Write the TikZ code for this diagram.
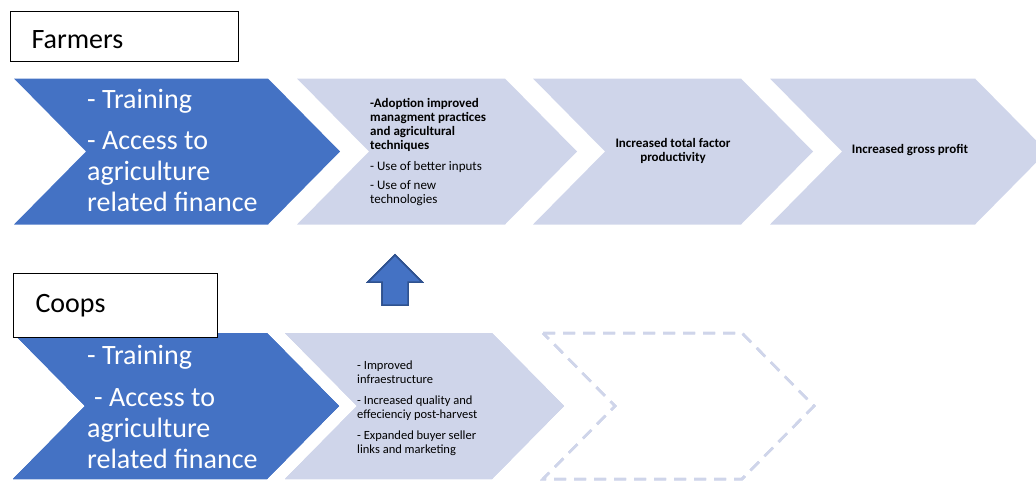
\documentclass[tikz,border=0pt]{standalone}
\usepackage{fontspec}
\setmainfont{Carlito}
\usepackage{tikz}
\definecolor{chevdark}{HTML}{4472C4}
\definecolor{chevlight}{HTML}{CFD5EA}
\definecolor{arrowline}{HTML}{2F528F}
% notched chevron: [style]{x}{y}{top width}
\newcommand{\chevpath}[4][]{%
\path[#1] (#2,#3) -- ++(#4,0) -- ++(72,73) -- ++(-72,73) -- ++(-#4,0) -- ++(72,-73) -- cycle;}

\begin{document}
\begin{tikzpicture}[x=1pt,y=-1pt,
darkchev/.style={fill=chevdark},
lightchev/.style={fill=chevlight},
openchev/.style={draw=chevlight,line width=2.5pt,dash pattern=on 12pt off 8pt},
labelbox/.style={draw,fill=white,line width=1pt,anchor=north west,align=left,
  font=\fontsize{28}{31}\selectfont},
bigtext/.style={anchor=west,align=left,inner sep=0,text=white,
  font=\fontsize{28}{31}\selectfont},
smalltext/.style={inner sep=0,font=\fontsize{13}{14.3}\selectfont}]
\useasboundingbox (0,0) rectangle (1036,483);
% farmers row
\chevpath[darkchev]{14}{78.5}{254}
\foreach \x/\w in {297/208,533/208,770/205}
  \chevpath[lightchev]{\x}{78.5}{\w}
% coops row
\chevpath[darkchev]{13}{333}{254}
\chevpath[lightchev]{285}{333}{207}
\chevpath[openchev]{543}{333}{199}
% block arrow between the rows
\draw[fill=chevdark,draw=arrowline,line width=1.5pt] (395,255) -- (422,282) -- (408,282)
  -- (408,305) -- (382,305) -- (382,282) -- (368,282) -- cycle;

\node[labelbox,minimum width=228pt,minimum height=50pt,text width=186pt,
  inner xsep=21pt,text height=24pt,text depth=0pt] (farmers) at (10,11) {Farmers};
\node[labelbox,minimum width=204pt,minimum height=64pt,text width=160pt,
  inner xsep=22pt,text height=18pt,text depth=4pt] (coops) at (13,273) {Coops};

\node[bigtext] (farmtrain) at (87,150)
  {- Training\\[10pt]- Access to\\agriculture\\related finance};
\node[bigtext] (coopstrain) at (87,407)
  {- Training\\[11pt]\hspace*{7pt}- Access to\\agriculture\\related finance};

\node[smalltext,anchor=west,align=left] (farmadopt) at (370,152)
  {\textbf{-Adoption improved}\\\textbf{managment practices}\\\textbf{and agricultural}\\
   \textbf{techniques}\\[6pt]- Use of better inputs\\[5pt]- Use of new\\technologies};
\node[smalltext,align=center,font=\fontsize{13}{14}\selectfont\bfseries] (farmtfp)
  at (673,151) {Increased total factor\\productivity};
\node[smalltext,font=\fontsize{13}{14}\selectfont\bfseries] (farmprofit)
  at (910,150) {Increased gross profit};
\node[smalltext,anchor=west,align=left,font=\fontsize{12.5}{14.5}\selectfont] (coopsinfra)
  at (357,408) {- Improved\\infraestructure\\[6pt]- Increased quality and\\
   effecienciy post-harvest\\[6pt]- Expanded buyer seller\\links and marketing};
\end{tikzpicture}
\end{document}
